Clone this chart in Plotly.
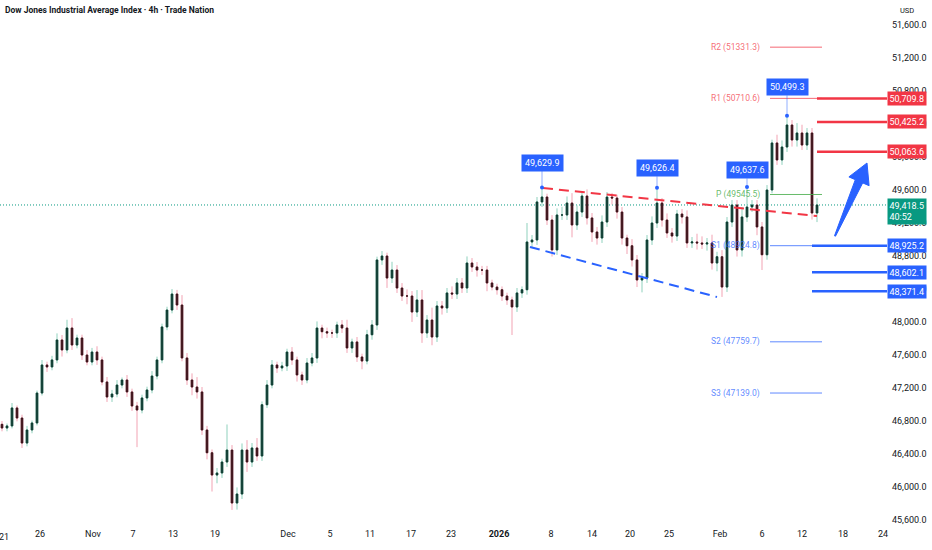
import plotly.graph_objects as go

# ---------------- data ----------------
closes = [
    46715, 46740, 46958, 46836, 46533, 46691, 46776, 47139, 47479, 47455,
    47540, 47782, 47661, 47927, 47721, 47806, 47600, 47515, 47636, 47540,
    47273, 47091, 47127, 47236, 47297, 47152, 46982, 46933, 47079, 47176,
    47345, 47540, 47940, 48145, 48339, 48206, 47564, 47297, 47212, 47152,
    46691, 46415, 46145, 46170, 46303, 46448, 45806, 45915, 46448, 46303,
    46473, 46376, 46997, 47236, 47479, 47443, 47467, 47636, 47540, 47358,
    47297, 47503, 47564, 47927, 47882, 47867, 47867, 47964, 47927, 47685,
    47758, 47576, 47527, 47845, 47964, 48752, 48800, 48533, 48630, 48412,
    48315, 48315, 48121, 48267, 47867, 48024, 47818, 48194, 48170, 48352,
    48339, 48473, 48412, 48715, 48667, 48630, 48630, 48473, 48424, 48391,
    48315, 48267, 48182, 48352, 48391, 48970, 48994, 49455, 49515, 49236,
    48873, 49297, 49297, 49442, 49176, 49333, 49527, 49261, 49091, 49018,
    49212, 49515, 49503, 49333, 49018, 48924, 48752, 48509, 48533, 48994,
    49200, 49442, 49236, 49079, 49042, 49309, 49273, 48958, 48970, 48958,
    48945, 48958, 48715, 48791, 48424, 49212, 49418, 48873, 49273, 49394,
    49418, 49152, 48815, 49600, 50170, 49964, 50121, 50388, 50206, 50291,
    50145, 50291, 49321, 49418.5,
]
first_open = 46760
upper_wicks = [
    40, 30, 60, 30, 40, 50, 30, 30, 60, 40,
    50, 80, 60, 100, 120, 40, 40, 60, 50, 70,
    40, 60, 50, 60, 30, 60, 40, 50, 40, 40,
    60, 40, 40, 40, 60, 50, 120, 60, 80, 120,
    60, 50, 40, 60, 40, 310, 60, 80, 80, 120,
    60, 120, 40, 60, 60, 40, 50, 40, 60, 40,
    40, 60, 60, 80, 40, 50, 40, 40, 60, 100,
    40, 60, 40, 60, 60, 40, 60, 40, 100, 60,
    60, 80, 60, 120, 120, 60, 150, 60, 60, 60,
    80, 60, 60, 80, 60, 60, 50, 50, 40, 40,
    40, 40, 40, 60, 40, 230, 60, 60, 115, 40,
    60, 80, 100, 80, 120, 80, 40, 80, 60, 60,
    80, 60, 50, 40, 60, 40, 80, 60, 60, 60,
    80, 184, 60, 80, 60, 50, 60, 80, 60, 100,
    80, 60, 100, 60, 80, 60, 60, 60, 120, 243,
    60, 60, 60, 60, 40, 100, 80, 111, 60, 120,
    100, 60, 60, 80,
]
lower_wicks = [
    40, 40, 30, 40, 60, 40, 40, 30, 30, 60,
    40, 40, 80, 40, 60, 40, 60, 40, 40, 60,
    40, 60, 60, 40, 40, 60, 60, 450, 40, 40,
    40, 40, 40, 40, 40, 60, 40, 60, 100, 80,
    60, 80, 200, 100, 60, 60, 84, 80, 60, 120,
    60, 60, 60, 40, 40, 60, 40, 60, 60, 80,
    60, 40, 40, 60, 80, 60, 60, 60, 60, 60,
    60, 60, 100, 40, 60, 60, 60, 120, 60, 60,
    60, 100, 120, 60, 120, 60, 100, 60, 80, 60,
    60, 60, 60, 60, 60, 80, 60, 100, 40, 60,
    60, 60, 340, 60, 60, 60, 60, 60, 60, 60,
    80, 60, 60, 60, 150, 60, 60, 80, 120, 80,
    60, 60, 80, 80, 80, 100, 80, 85, 150, 60,
    60, 60, 80, 60, 80, 60, 80, 60, 60, 80,
    60, 80, 80, 100, 120, 60, 60, 80, 80, 60,
    60, 100, 185, 60, 40, 60, 60, 60, 80, 80,
    60, 60, 80, 110,
]

x_tick_pos = [0.4, 7.6, 18.2, 26.2, 34.2, 42.6, 57.2, 65.6, 73.6, 81.8, 89.8,
              99.4, 109.8, 118, 125.6, 133.4, 143.6, 152, 160, 168.2, 176.2]
x_tick_text = ["21", "26", "Nov", "7", "13", "19", "Dec", "5", "11", "17", "23",
               "<b>2026</b>", "8", "14", "20", "25", "Feb", "6", "12", "18", "24"]
y_tick_vals = [45600, 46000, 46400, 46800, 47200, 47600, 48000, 48400,
               48800, 49200, 49600, 50000, 50400, 50800, 51200, 51600]

callout_bars = [108, 131, 149, 157]
callout_values = [49629.9, 49626.4, 49637.6, 50499.3]
callout_offsets = [-25, -20, -17, -29]

pivot_names = ["R2", "R1", "P", "S1", "S2", "S3"]
pivot_values = [51331.3, 50710.6, 49545.5, 48924.8, 47759.7, 47139.0]
resistance_levels = [50709.8, 50425.2, 50063.6]
support_levels = [48925.2, 48602.1, 48371.4]
current_price = 49418.5
countdown = "40:52"

red_trend_bars = [108.2, 163]
red_trend_values = [49624, 49285]
blue_trend_bars = [105.6, 143]
blue_trend_values = [48909, 48303]

# ---------------- build ----------------
bars = list(range(len(closes)))
opens = [first_open] + closes[:-1]
highs = [max(o, c) + u for o, c, u in zip(opens, closes, upper_wicks)]
lows = [min(o, c) - d for o, c, d in zip(opens, closes, lower_wicks)]
for b, v in zip(callout_bars, callout_values):
    highs[b] = v
body_hi = [max(o, c) for o, c in zip(opens, closes)]
body_lo = [min(o, c) for o, c in zip(opens, closes)]

RED = "#f23645"
BLUE = "#2962ff"
GREEN = "#089981"
TXT = "#131722"
FONT = "Roboto"

X_MIN, X_MAX = -0.4, 177
Y_MIN, Y_MAX = 45515.1, 51903.0
X_END_BAR = len(closes) - 1

fig = go.Figure()

# wicks (light colours)
fig.add_trace(go.Candlestick(
    x=bars, open=opens, high=highs, low=lows, close=closes,
    increasing=dict(line=dict(color="#8fd1bd", width=1), fillcolor="#8fd1bd"),
    decreasing=dict(line=dict(color="#f2a3b3", width=1), fillcolor="#f2a3b3"),
    hoverinfo="skip", showlegend=False))
# bodies (dark)
fig.add_trace(go.Candlestick(
    x=bars, open=opens, high=body_hi, low=body_lo, close=closes,
    increasing=dict(line=dict(color="#0f3b31", width=1), fillcolor="#0f3b31"),
    decreasing=dict(line=dict(color="#3a1219", width=1), fillcolor="#3a1219"),
    hoverinfo="skip", showlegend=False))

# trend lines
fig.add_trace(go.Scatter(x=red_trend_bars, y=red_trend_values, mode="lines",
                         line=dict(color=RED, width=2, dash="10px,6px"),
                         hoverinfo="skip", showlegend=False))
fig.add_trace(go.Scatter(x=blue_trend_bars, y=blue_trend_values, mode="lines",
                         line=dict(color=BLUE, width=2, dash="10px,6px"),
                         hoverinfo="skip", showlegend=False))

# dots at callout highs
fig.add_trace(go.Scatter(x=callout_bars, y=callout_values, mode="markers",
                         marker=dict(color=BLUE, size=4),
                         hoverinfo="skip", showlegend=False))

shapes = []
annotations = []

# current price dotted line
shapes.append(dict(type="line", xref="x", yref="y", x0=X_MIN, x1=X_MAX,
                   y0=current_price, y1=current_price,
                   line=dict(color=GREEN, width=1, dash="1px,2px"), layer="below"))

# pivot levels (thin) with labels
pivot_colors = {"R": "rgba(242,54,69,0.75)", "P": "rgba(76,175,80,0.85)",
                "S": "rgba(41,98,255,0.75)"}
for name, val in zip(pivot_names, pivot_values):
    col = pivot_colors[name[0]]
    shapes.append(dict(type="line", xref="x", yref="y", x0=153.6, x1=164,
                       y0=val, y1=val, line=dict(color=col, width=1)))
    annotations.append(dict(x=152, y=val, xref="x", yref="y",
                            text=f"{name} ({val:.1f})", showarrow=False,
                            xanchor="right", yanchor="middle",
                            font=dict(family=FONT, size=8.5, color=col)))

# key levels (thick) and price tags
for val in resistance_levels:
    shapes.append(dict(type="line", xref="x", yref="y", x0=X_END_BAR, x1=X_MAX,
                       y0=val, y1=val, line=dict(color=RED, width=2.5)))
    annotations.append(dict(x=1, xref="paper", y=val, yref="y", text=f"{val:,.1f}",
                            showarrow=False, xanchor="left", yanchor="middle",
                            bgcolor=RED, borderpad=1.5,
                            font=dict(family=FONT, size=9, color="white")))
for val in support_levels:
    shapes.append(dict(type="line", xref="x", yref="y", x0=X_END_BAR - 1, x1=X_MAX,
                       y0=val, y1=val, line=dict(color=BLUE, width=2.5)))
    annotations.append(dict(x=1, xref="paper", y=val, yref="y", text=f"{val:,.1f}",
                            showarrow=False, xanchor="left", yanchor="middle",
                            bgcolor=BLUE, borderpad=1.5,
                            font=dict(family=FONT, size=9, color="white")))

annotations.append(dict(x=1, xref="paper", y=current_price, yref="y",
                        text=f"{current_price:,.1f}<br>{countdown}",
                        showarrow=False, xanchor="left", yanchor="top", yshift=7,
                        align="left", bgcolor=GREEN, borderpad=1.5,
                        font=dict(family=FONT, size=9, color="white")))

# callouts
for b, v, off in zip(callout_bars, callout_values, callout_offsets):
    annotations.append(dict(x=b, y=v, xref="x", yref="y", text=f"{v:,.1f}",
                            showarrow=True, arrowhead=0, arrowwidth=1,
                            arrowcolor="rgba(41,98,255,0.5)", ax=0, ay=off,
                            bgcolor=BLUE, borderpad=3,
                            font=dict(family=FONT, size=9, color="white")))

# first date label sits at the left edge (plotly drops it as a tick), so draw it as text
annotations.append(dict(x=x_tick_pos[0], y=0, xref="x", yref="paper",
                        xanchor="center", yanchor="top", yshift=-3, showarrow=False,
                        text=x_tick_text[0], font=dict(family=FONT, size=9, color=TXT)))

# blue arrow drawing (pixel sketch converted to chart units)
def px_to_bar(px):
    return (px - 2) / 5.0

def py_to_price(py):
    return 51600 - (py - 25) * 400 / 33.0

arrow_px = [(834.5, 235.8), (855.3, 179.7), (848.9, 176.9), (867.0, 163.0),
            (869.1, 185.7), (862.7, 182.9), (835.5, 236.2)]
path = "M " + " L ".join(f"{px_to_bar(a):.3f},{py_to_price(b):.2f}" for a, b in arrow_px) + " Z"
shapes.append(dict(type="path", xref="x", yref="y", path=path,
                   fillcolor=BLUE, line=dict(color=BLUE, width=1)))

# title and currency
annotations.append(dict(x=0, y=1, xref="paper", yref="paper", xanchor="left", yanchor="top",
                        xshift=3, yshift=-3, showarrow=False,
                        text="<b>Dow Jones Industrial Average Index · 4h · Trade Nation</b>",
                        font=dict(family=FONT, size=8.5, color=TXT)))
annotations.append(dict(x=1, y=1, xref="paper", yref="paper", xanchor="left", yanchor="top",
                        xshift=11, yshift=-4, showarrow=False, text="USD",
                        font=dict(family=FONT, size=7.5, color=TXT)))

fig.update_layout(
    width=932, height=550,
    margin=dict(l=0, r=45, t=0, b=23),
    paper_bgcolor="white", plot_bgcolor="white",
    showlegend=False, boxgap=0.55,
    shapes=shapes, annotations=annotations,
    font=dict(family=FONT, size=9, color=TXT),
    xaxis=dict(range=[X_MIN, X_MAX], tickvals=x_tick_pos[1:], ticktext=x_tick_text[1:],
               showgrid=False, zeroline=False, showline=False, ticks="",
               automargin=False, rangeslider=dict(visible=False), fixedrange=True,
               tickfont=dict(family=FONT, size=9, color=TXT)),
    yaxis=dict(range=[Y_MIN, Y_MAX], side="right", tickvals=y_tick_vals,
               tickformat=",.1f", showgrid=False, zeroline=False, showline=False,
               ticks="", ticklabelstandoff=4, automargin=False, fixedrange=True,
               tickfont=dict(family=FONT, size=9, color=TXT)),
)

fig.write_html("out.html", config={"displayModeBar": False},
               post_script="document.body.style.margin='0';document.body.style.overflow='hidden';")
